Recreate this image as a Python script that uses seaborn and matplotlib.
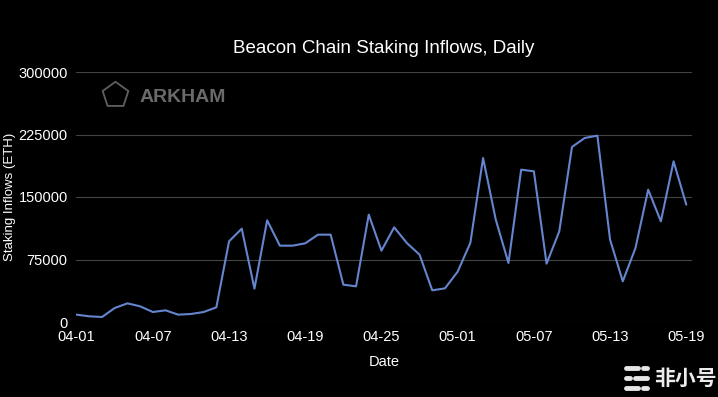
import numpy as np
import pandas as pd
import seaborn as sns
import matplotlib.pyplot as plt
from matplotlib.lines import Line2D

# daily staking inflows (ETH), 04-01 .. 05-19
dates = pd.date_range("2023-04-01", "2023-05-19", freq="D")
inflows = [8800, 6800, 6000, 16800, 22400, 18800, 12000, 14000, 8800, 9600,
           12000, 17600, 96800, 112000, 40000, 122000, 91600, 91600, 94400, 104800,
           104800, 44800, 42800, 128800, 85600, 113600, 94800, 80800, 38000, 40400,
           60400, 95000, 196800, 122800, 70800, 182800, 180800, 70000, 108800, 210000,
           220800, 223600, 98800, 48800, 88800, 158800, 120800, 192800, 140800]
tick_labels = ["04-01", "04-07", "04-13", "04-19", "04-25", "05-01", "05-07", "05-13", "05-19"]
y_ticks = [0, 75000, 150000, 225000, 300000]

df = pd.DataFrame({"day": np.arange(len(dates)), "inflow": inflows})

sns.set_theme(style="dark")
plt.rcParams["font.family"] = ["Liberation Sans", "DejaVu Sans"]

fig = plt.figure(figsize=(7.18, 3.97), dpi=100, facecolor="black")
ax = fig.add_axes([76 / 718, 75 / 397, 616 / 718, 250 / 397])
ax.set_facecolor("black")

sns.lineplot(data=df, x="day", y="inflow", ax=ax, color="#6585cf", linewidth=1.5)

ax.set_xlim(-0.05, 48.45)
ax.set_ylim(0, 300000)
ax.set_xticks(np.arange(0, len(dates), 6))
ax.set_xticklabels(tick_labels)
ax.set_yticks(y_ticks)
ax.set_yticklabels([str(v) for v in y_ticks])
ax.tick_params(colors="white", labelsize=10.5, length=0, pad=6)
ax.grid(axis="y", color="#444444", linewidth=0.8)
ax.grid(axis="x", visible=False)
for s in ax.spines.values():
    s.set_visible(False)

ax.set_xlabel("Date", color="white", fontsize=10.5, labelpad=8)
ax.set_ylabel("Staking Inflows (ETH)", color="white", fontsize=9.5)
ax.yaxis.set_label_coords(-0.097, 0.5)
ax.set_title("Beacon Chain Staking Inflows, Daily", color="white", fontsize=13.5, pad=14)

# ARKHAM watermark
fig.text(115 / 718, 1 - 97 / 397, "\u2b20", color="#5e5e5e", fontsize=24,
         ha="center", va="center", family=["DejaVu Sans"])
fig.text(140 / 718, 1 - 97 / 397, "ARKHAM", color="#6a6a6a", fontsize=14,
         fontweight="bold", ha="left", va="center")

# bottom-right watermark
for yy, xs in [(368, [(626, 638), (643, 647)]), (378, [(626, 630), (635, 647)]), (388, [(626, 638), (643, 647)])]:
    for x0, x1 in xs:
        fig.add_artist(Line2D([x0 / 718, x1 / 718], [1 - yy / 397, 1 - yy / 397],
                              color="#e6e6e6", linewidth=3.5, solid_capstyle="round"))
fig.text(654 / 718, 1 - 378 / 397, "非小号", color="#ececec", fontsize=15, ha="left", va="center",
         family=["Noto Sans CJK SC", "DejaVu Sans"], fontweight="bold")

fig.savefig("out.png", dpi=100, facecolor="black")
